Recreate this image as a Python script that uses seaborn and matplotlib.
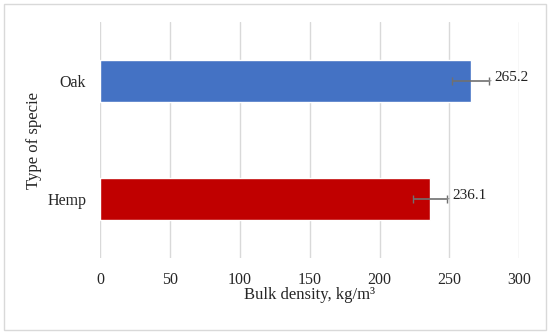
import matplotlib
matplotlib.use("Agg")
import pandas as pd
import seaborn as sns
from matplotlib import pyplot as plt
from matplotlib.patches import Rectangle

species = ["Oak", "Hemp"]
density = [265.2, 236.1]
errors = [13.0, 12.0]
colors = ["#4472C4", "#C00000"]

df = pd.DataFrame({"species": species, "density": density})

sns.set_style("white")
plt.rcParams["font.family"] = ["Liberation Serif", "DejaVu Serif"]

fig = plt.figure(figsize=(5.5, 3.34), dpi=100)
ax = fig.add_axes([0.182, 0.2275, 0.762, 0.7065])

sns.barplot(data=df, x="density", y="species", hue="species",
            palette=colors, width=0.36, orient="h", legend=False,
            saturation=1, ax=ax)

ax.errorbar(density, range(len(species)), xerr=errors, fmt="none",
            ecolor="#707070", elinewidth=1.2, capsize=3, capthick=1)

for i, (v, e) in enumerate(zip(density, errors)):
    ax.annotate(f"{v:.1f}", xy=(v + e, i), xytext=(v + e + 4, i - 0.03),
                fontsize=11, va="center", ha="left", color="#222222",
                arrowprops=dict(arrowstyle="-", color="#909090", lw=0.8))

ax.set_xlim(0, 300)
ax.set_xticks(range(0, 301, 50))
ax.set_ylim(1.5, -0.5)
ax.grid(axis="x", color="#d9d9d9", linewidth=1)
ax.set_axisbelow(True)
for s in ax.spines.values():
    s.set_visible(False)
ax.tick_params(axis="x", length=0, pad=10, labelsize=11.5)
ax.tick_params(axis="y", length=0, pad=10, labelsize=11.5)
ax.set_xlabel("Bulk density, kg/m³", fontsize=12, labelpad=-1)
ax.set_ylabel("Type of specie", fontsize=12)
ax.yaxis.set_label_coords(-0.138, 0.5)

fig.patches.append(Rectangle((0.008, 0.012), 0.984, 0.976, transform=fig.transFigure,
                             fill=False, edgecolor="#d9d9d9", linewidth=1))

fig.savefig("out.png", dpi=100)
